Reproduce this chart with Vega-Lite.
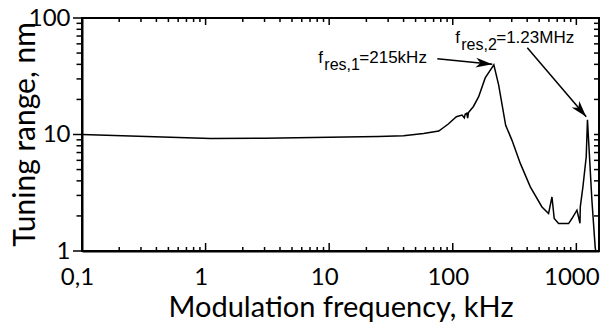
{
  "$schema": "https://vega.github.io/schema/vega-lite/v6.json",
  "width": 517,
  "height": 233,
  "autosize": "none",
  "padding": {"left": 82, "top": 18, "right": 1, "bottom": 73},
  "background": "white",
  "config": {
    "view": {"stroke": "#000000", "strokeWidth": 2},
    "font": "Lato",
    "axis": {"domainColor": "#000000", "domainWidth": 2, "grid": false, "labelColor": "#000000", "titleColor": "#000000", "labelOverlap": false, "labelBound": false, "labelFlush": false}
  },
  "datasets": {
    "curve": [
      {"f": 0.1, "v": 10.0},
      {"f": 1.1, "v": 9.25},
      {"f": 3, "v": 9.3},
      {"f": 10, "v": 9.45},
      {"f": 25, "v": 9.6},
      {"f": 40, "v": 9.75},
      {"f": 58, "v": 10.2},
      {"f": 77, "v": 10.7},
      {"f": 92, "v": 12.3},
      {"f": 107, "v": 14.2},
      {"f": 119, "v": 14.7},
      {"f": 124, "v": 13.9},
      {"f": 126, "v": 14.9},
      {"f": 130, "v": 15.2},
      {"f": 132, "v": 13.8},
      {"f": 134, "v": 15.4},
      {"f": 147, "v": 17.4},
      {"f": 162, "v": 21.1},
      {"f": 183, "v": 30.6},
      {"f": 215, "v": 39.6},
      {"f": 235, "v": 26.7},
      {"f": 268, "v": 12.0},
      {"f": 301, "v": 8.95},
      {"f": 352, "v": 5.65},
      {"f": 424, "v": 3.55},
      {"f": 527, "v": 2.39},
      {"f": 596, "v": 2.1},
      {"f": 635, "v": 2.91},
      {"f": 662, "v": 1.9},
      {"f": 718, "v": 1.72},
      {"f": 865, "v": 1.72},
      {"f": 921, "v": 1.9},
      {"f": 1011, "v": 2.24},
      {"f": 1070, "v": 1.73},
      {"f": 1076, "v": 2.39},
      {"f": 1130, "v": 3.55},
      {"f": 1202, "v": 6.44},
      {"f": 1230, "v": 13.4},
      {"f": 1336, "v": 2.73},
      {"f": 1420, "v": 1.08},
      {"f": 1435, "v": 1.0}
    ],
    "notes": [
      {"x": 8.17, "y": 41.2, "f": "f", "sub": "res,1", "rest": "=215kHz"},
      {"x": 104.7, "y": 61.3, "f": "f", "sub": "res,2", "rest": "=1.23MHz"}
    ],
    "arrows": [
      {"arrow": 1, "end": "start", "x": 75, "y": 44.6},
      {"arrow": 1, "end": "tip", "x": 209, "y": 40.0},
      {"arrow": 2, "end": "start", "x": 401, "y": 55.5},
      {"arrow": 2, "end": "tip", "x": 1202, "y": 14.2}
    ],
    "xticks": [
      {"v": 0.1, "major": true}, {"v": 0.2, "major": false}, {"v": 0.3, "major": false}, {"v": 0.4, "major": false}, {"v": 0.5, "major": false}, {"v": 0.6, "major": false}, {"v": 0.7, "major": false}, {"v": 0.8, "major": false}, {"v": 0.9, "major": false},
      {"v": 1, "major": true}, {"v": 2, "major": false}, {"v": 3, "major": false}, {"v": 4, "major": false}, {"v": 5, "major": false}, {"v": 6, "major": false}, {"v": 7, "major": false}, {"v": 8, "major": false}, {"v": 9, "major": false},
      {"v": 10, "major": true}, {"v": 20, "major": false}, {"v": 30, "major": false}, {"v": 40, "major": false}, {"v": 50, "major": false}, {"v": 60, "major": false}, {"v": 70, "major": false}, {"v": 80, "major": false}, {"v": 90, "major": false},
      {"v": 100, "major": true}, {"v": 200, "major": false}, {"v": 300, "major": false}, {"v": 400, "major": false}, {"v": 500, "major": false}, {"v": 600, "major": false}, {"v": 700, "major": false}, {"v": 800, "major": false}, {"v": 900, "major": false},
      {"v": 1000, "major": true}
    ],
    "yticks": [
      {"v": 1, "major": true}, {"v": 2, "major": false}, {"v": 3, "major": false}, {"v": 4, "major": false}, {"v": 5, "major": false}, {"v": 6, "major": false}, {"v": 7, "major": false}, {"v": 8, "major": false}, {"v": 9, "major": false},
      {"v": 10, "major": true}, {"v": 20, "major": false}, {"v": 30, "major": false}, {"v": 40, "major": false}, {"v": 50, "major": false}, {"v": 60, "major": false}, {"v": 70, "major": false}, {"v": 80, "major": false}, {"v": 90, "major": false},
      {"v": 100, "major": true}
    ]
  },
  "layer": [
    {
      "data": {"name": "curve"},
      "mark": {"type": "line", "color": "#000000", "strokeWidth": 1.5, "clip": true},
      "encoding": {
        "x": {
          "field": "f", "type": "quantitative",
          "scale": {"type": "log", "domain": [0.1, 1525], "nice": false},
          "axis": {
            "orient": "bottom",
            "values": [0.1, 1, 10, 100, 1000],
            "ticks": false,
            "labelExpr": "datum.value == 0.1 ? '0,1' : format(datum.value, 'd')",
            "labelFontSize": 24,
            "labelPadding": 14,
            "labelOffset": -5,
            "title": "Modulation frequency, kHz",
            "titleFontSize": 29,
            "titleFontWeight": "normal",
            "titlePadding": 4
          }
        },
        "y": {
          "field": "v", "type": "quantitative",
          "scale": {"type": "log", "domain": [1, 100], "nice": false},
          "axis": {
            "orient": "left",
            "values": [1, 10, 100],
            "ticks": false,
            "labelExpr": "format(datum.value, 'd')",
            "labelFontSize": 24,
            "labelPadding": 12,
            "title": "Tuning range, nm",
            "titleFontSize": 30,
            "titleFontWeight": "normal",
            "titleX": -48,
            "titleY": 116,
            "titleAngle": -90,
            "titleAlign": "center",
            "titleBaseline": "alphabetic"
          }
        }
      }
    },
    {
      "data": {"name": "xticks"},
      "transform": [{"filter": "datum.major"}],
      "mark": {"type": "tick", "orient": "vertical", "color": "#000000", "size": 8, "thickness": 1.5, "opacity": 1, "yOffset": -4},
      "encoding": {
        "x": {"field": "v", "type": "quantitative"},
        "y": {"datum": 1}
      }
    },
    {
      "data": {"name": "xticks"},
      "transform": [{"filter": "!datum.major"}],
      "mark": {"type": "tick", "orient": "vertical", "color": "#000000", "size": 4, "thickness": 1.5, "opacity": 1, "yOffset": -2},
      "encoding": {
        "x": {"field": "v", "type": "quantitative"},
        "y": {"datum": 1}
      }
    },
    {
      "data": {"name": "xticks"},
      "transform": [{"filter": "datum.major"}],
      "mark": {"type": "tick", "orient": "vertical", "color": "#000000", "size": 7, "thickness": 1.5, "opacity": 1, "yOffset": 3.5},
      "encoding": {
        "x": {"field": "v", "type": "quantitative"},
        "y": {"datum": 100}
      }
    },
    {
      "data": {"name": "xticks"},
      "transform": [{"filter": "!datum.major"}],
      "mark": {"type": "tick", "orient": "vertical", "color": "#000000", "size": 4, "thickness": 1.5, "opacity": 1, "yOffset": 2},
      "encoding": {
        "x": {"field": "v", "type": "quantitative"},
        "y": {"datum": 100}
      }
    },
    {
      "data": {"name": "yticks"},
      "transform": [{"filter": "datum.major"}],
      "mark": {"type": "tick", "orient": "horizontal", "color": "#000000", "size": 9, "thickness": 1.5, "opacity": 1, "xOffset": -4.5},
      "encoding": {
        "y": {"field": "v", "type": "quantitative"},
        "x": {"datum": 0.1}
      }
    },
    {
      "data": {"name": "yticks"},
      "transform": [{"filter": "!datum.major"}],
      "mark": {"type": "tick", "orient": "horizontal", "color": "#000000", "size": 5.5, "thickness": 1.5, "opacity": 1, "xOffset": -2.75},
      "encoding": {
        "y": {"field": "v", "type": "quantitative"},
        "x": {"datum": 0.1}
      }
    },
    {
      "data": {"name": "yticks"},
      "mark": {"type": "tick", "orient": "horizontal", "color": "#000000", "size": 5, "thickness": 1.5, "opacity": 1, "xOffset": -2.5},
      "encoding": {
        "y": {"field": "v", "type": "quantitative"},
        "x": {"datum": 1525}
      }
    },
    {
      "data": {"name": "notes"},
      "mark": {"type": "text", "font": "Liberation Sans", "fontSize": 17, "align": "left", "baseline": "alphabetic", "color": "#000000"},
      "encoding": {
        "x": {"field": "x", "type": "quantitative"},
        "y": {"field": "y", "type": "quantitative"},
        "text": {"field": "f"}
      }
    },
    {
      "data": {"name": "notes"},
      "mark": {"type": "text", "font": "Liberation Sans", "fontSize": 16, "align": "left", "baseline": "alphabetic", "dx": 6, "dy": 7, "color": "#000000"},
      "encoding": {
        "x": {"field": "x", "type": "quantitative"},
        "y": {"field": "y", "type": "quantitative"},
        "text": {"field": "sub"}
      }
    },
    {
      "data": {"name": "notes"},
      "mark": {"type": "text", "font": "Liberation Sans", "fontSize": 17, "align": "left", "baseline": "alphabetic", "dx": 41, "color": "#000000"},
      "encoding": {
        "x": {"field": "x", "type": "quantitative"},
        "y": {"field": "y", "type": "quantitative"},
        "text": {"field": "rest"}
      }
    },
    {
      "data": {"name": "arrows"},
      "mark": {"type": "line", "color": "#000000", "strokeWidth": 1.5},
      "encoding": {
        "x": {"field": "x", "type": "quantitative"},
        "y": {"field": "y", "type": "quantitative"},
        "detail": {"field": "arrow"}
      }
    },
    {
      "data": {"name": "arrows"},
      "transform": [{"filter": "datum.end == 'tip' && datum.arrow == 1"}],
      "mark": {"type": "point", "shape": "M0,0 L-1,-0.3 L-0.72,0 L-1,0.3 Z", "size": 1100, "filled": true, "opacity": 1, "color": "#000000", "angle": 6},
      "encoding": {
        "x": {"field": "x", "type": "quantitative"},
        "y": {"field": "y", "type": "quantitative"}
      }
    },
    {
      "data": {"name": "arrows"},
      "transform": [{"filter": "datum.end == 'tip' && datum.arrow == 2"}],
      "mark": {"type": "point", "shape": "M0,0 L-1,-0.3 L-0.72,0 L-1,0.3 Z", "size": 1100, "filled": true, "opacity": 1, "color": "#000000", "angle": 49.5},
      "encoding": {
        "x": {"field": "x", "type": "quantitative"},
        "y": {"field": "y", "type": "quantitative"}
      }
    }
  ]
}
